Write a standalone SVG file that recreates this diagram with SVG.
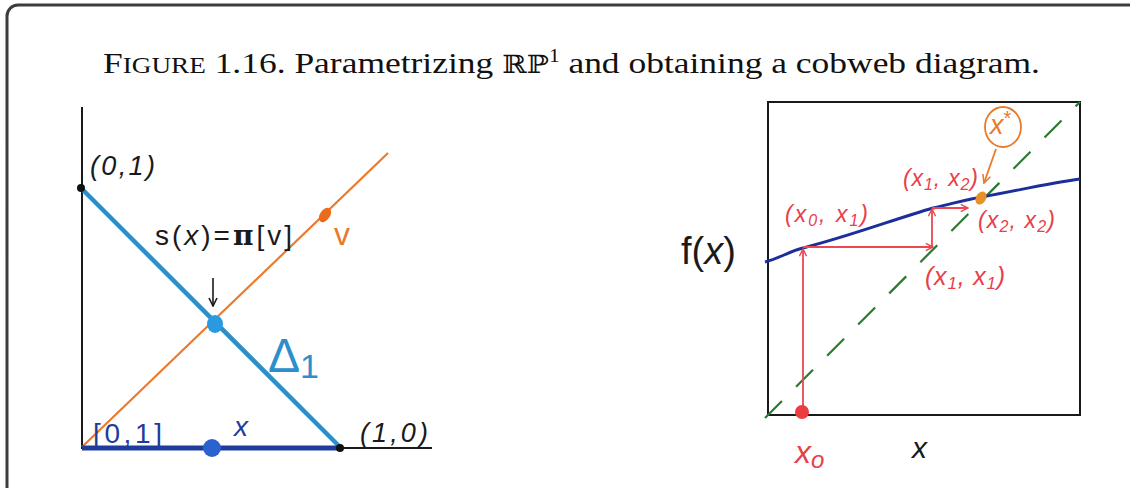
<svg xmlns="http://www.w3.org/2000/svg" width="1130" height="488" viewBox="0 0 1130 488">
<defs>
<style>
.hand{font-family:"Liberation Sans","DejaVu Sans",sans-serif;}
.blk{fill:#1a1a1a;}
.red{fill:#e8404a;}
.org{fill:#e87a2a;}
.ax{stroke:#1a1a1a;stroke-width:2;fill:none;}
.redl{stroke:#ec4850;stroke-width:1.8;fill:none;}
</style>
<marker id="ra" viewBox="0 0 10 10" refX="9" refY="5" markerWidth="9" markerHeight="9" markerUnits="userSpaceOnUse" orient="auto">
<path d="M1,1 L9,5 L1,9" fill="none" stroke="#ec4850" stroke-width="1.6"/>
</marker>
<marker id="oa" viewBox="0 0 10 10" refX="9" refY="5" markerWidth="10" markerHeight="10" markerUnits="userSpaceOnUse" orient="auto">
<path d="M1,1 L9,5 L1,9" fill="none" stroke="#e87a2a" stroke-width="1.6"/>
</marker>
<marker id="ka" viewBox="0 0 10 10" refX="9" refY="5" markerWidth="10" markerHeight="10" markerUnits="userSpaceOnUse" orient="auto">
<path d="M1,1 L9,5 L1,9" fill="none" stroke="#1a1a1a" stroke-width="1.6"/>
</marker>
</defs>
<rect x="0" y="0" width="1130" height="488" fill="#ffffff"/>
<rect id="frame" x="7" y="5" width="1140" height="520" rx="11" fill="none" stroke="#3c3c3c" stroke-width="3"/>
<g id="title">
<text x="103" y="73" font-family="Liberation Serif, serif" font-size="30" fill="#111" textLength="937" lengthAdjust="spacingAndGlyphs">F<tspan font-size="23">IGURE</tspan> 1.16.  Parametrizing <tspan font-family="DejaVu Serif, serif" font-size="25">ℝℙ</tspan><tspan font-size="18" dy="-11">1</tspan><tspan dy="11"> and obtaining a cobweb diagram.</tspan></text>
</g>
<g id="left-diagram">
<g id="axes-left">
<line class="ax" x1="82" y1="107" x2="82" y2="449"/>
<line class="ax" x1="81" y1="448" x2="432" y2="448"/>
</g>
<g id="connectors">
<line x1="82" y1="447" x2="388" y2="153" stroke="#ec7a2c" stroke-width="2.2"/>
<line x1="81" y1="188" x2="340" y2="447" stroke="#2b8fcc" stroke-width="4.5"/>
<line x1="82" y1="448" x2="340" y2="448" stroke="#1f3c9c" stroke-width="5"/>
<line x1="213" y1="278" x2="213" y2="306" stroke="#1a1a1a" stroke-width="1.6" marker-end="url(#ka)"/>
</g>
<g id="pt01"><circle cx="81" cy="188" r="4" fill="#111"/><text class="hand blk" x="90" y="175" font-size="27" font-style="italic" textLength="65">(0,1)</text></g>
<g id="pt10"><circle cx="340" cy="448" r="4" fill="#111"/><text class="hand blk" x="360" y="442" font-size="27" font-style="italic" textLength="68">(1,0)</text></g>
<g id="v"><ellipse cx="325" cy="215" rx="5" ry="8" transform="rotate(35 325 215)" fill="#ec6a1c"/><text class="hand org" x="334" y="245" font-size="32">v</text></g>
<g id="s-label"><text class="hand blk" x="155" y="245" font-size="28" textLength="137">s(<tspan font-style="italic">x</tspan>)=<tspan font-weight="bold" font-family="DejaVu Serif, serif">π</tspan>[v]</text></g>
<g id="sx"><ellipse cx="215" cy="324" rx="8" ry="9" fill="#2a9ae0"/></g>
<g id="delta"><text x="268" y="372" font-family="Liberation Sans, sans-serif" font-size="48" fill="#2b8fcc">Δ<tspan font-size="34" dy="6">1</tspan></text></g>
<g id="interval"><text class="hand" x="93" y="443" font-size="28" fill="#1f3c9c" textLength="69">[0,1]</text></g>
<g id="xpt"><circle cx="212" cy="448" r="9" fill="#2a63d0"/><text class="hand" x="234" y="436" font-size="28" font-style="italic" fill="#1f3c9c">x</text></g>
</g>
<g id="right-diagram">
<g id="box"><rect x="768" y="102" width="312" height="313" fill="none" stroke="#1a1a1a" stroke-width="2"/></g>
<g id="connectors-right">
<line x1="765" y1="418" x2="1080" y2="102" stroke="#2a7a32" stroke-width="2.2" stroke-dasharray="24,20"/>
<path d="M765,262 C778,259 790,251 803,248 C850,236 895,219 933,208 C955,203 968,199 982,197 C1020,190 1050,183 1080,179" fill="none" stroke="#1c2e9c" stroke-width="3"/>
<line class="redl" x1="803" y1="412" x2="803" y2="249" marker-end="url(#ra)"/>
<line class="redl" x1="803" y1="247" x2="933" y2="247" marker-end="url(#ra)"/>
<line class="redl" x1="932" y1="247" x2="932" y2="209" marker-end="url(#ra)"/>
<line class="redl" x1="932" y1="208" x2="968" y2="208" marker-end="url(#ra)"/>
<line x1="996" y1="149" x2="984" y2="183" stroke="#e87a2a" stroke-width="1.8" marker-end="url(#oa)"/>
</g>
<g id="x0"><circle cx="802" cy="412" r="7" fill="#ec3c40"/><text class="hand red" x="795" y="463" font-size="32" font-style="italic">x<tspan font-size="24" dy="5">o</tspan></text></g>
<g id="fx"><text class="hand blk" x="681" y="264" font-size="38">f(<tspan font-style="italic">x</tspan>)</text></g>
<g id="xlab"><text class="hand blk" x="912" y="458" font-size="30" font-style="italic">x</text></g>
<g id="xstar"><ellipse cx="1003" cy="127" rx="18" ry="20" fill="none" stroke="#e87a2a" stroke-width="1.8"/><text class="hand org" x="990" y="134" font-size="27" font-style="italic">x<tspan font-size="20" dy="-9" font-style="normal">*</tspan></text><ellipse cx="981" cy="198" rx="5" ry="7" transform="rotate(30 981 198)" fill="#e8902a"/></g>
<g id="l01"><text class="hand red" x="785" y="222" font-size="23" font-style="italic" textLength="83">(x<tspan font-size="16" dy="4">0</tspan><tspan dy="-4">, x</tspan><tspan font-size="16" dy="4">1</tspan><tspan dy="-4">)</tspan></text></g>
<g id="l12"><text class="hand red" x="903" y="186" font-size="23" font-style="italic" textLength="75">(x<tspan font-size="16" dy="4">1</tspan><tspan dy="-4">, x</tspan><tspan font-size="16" dy="4">2</tspan><tspan dy="-4">)</tspan></text></g>
<g id="l22"><text class="hand red" x="978" y="228" font-size="23" font-style="italic" textLength="77">(x<tspan font-size="16" dy="4">2</tspan><tspan dy="-4">, x</tspan><tspan font-size="16" dy="4">2</tspan><tspan dy="-4">)</tspan></text></g>
<g id="l11"><text class="hand red" x="925" y="285" font-size="25" font-style="italic" textLength="80">(x<tspan font-size="17" dy="4">1</tspan><tspan dy="-4">, x</tspan><tspan font-size="17" dy="4">1</tspan><tspan dy="-4">)</tspan></text></g>
</g>
</svg>
